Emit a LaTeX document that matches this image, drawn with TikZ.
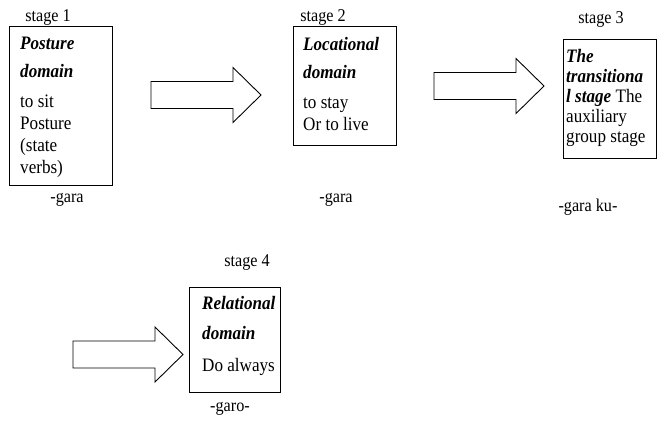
\documentclass[tikz,border=0pt]{standalone}
\usepackage{fontspec}
\setmainfont[FakeStretch=0.9]{Liberation Serif}
\usetikzlibrary{positioning}
\tikzset{>=latex}
\tikzset{
    stagebox/.style={draw, line width=.9pt, inner sep=0pt, outer sep=0pt, anchor=north west},
    boxtext/.style={inner sep=0pt, align=left, font=\fontsize{19}{22}\selectfont},
    stagelab/.style={inner sep=0pt, font=\fontsize{18}{20}\selectfont}
}
\newcommand{\hd}[1]{\textbf{\textit{#1}}}
\newcommand{\blockarrow}[2]{%
    \draw[line width=.9pt](#1, #2-13.5)--++(82, 0)--++(0, -14)--(#1+110, #2)
        --(#1+82, #2+27.5)--++(0, -14)--(#1, #2+13.5)--cycle;}

\begin{document}
\begin{tikzpicture}[x=1pt, y=-1pt]
    \useasboundingbox(0, 0)rectangle(657, 421);
    % boxes
    \node[stagebox, minimum width=103pt, minimum height=159pt](box1) at(9, 26){};
    \node[stagebox, minimum width=103pt, minimum height=119pt](box2) at(293, 26){};
    \node[stagebox, minimum width=93pt, minimum height=119pt](box3) at(563, 39){};
    \node[stagebox, minimum width=91pt, minimum height=105pt](box4) at(189, 287){};
    % box texts
    \node[boxtext, below right=11pt and 11pt of box1.north west](txt1)
        {\hd{Posture}\\[6pt]\hd{domain}\\[8pt]to sit\\Posture\\(state\\verbs)};
    \node[boxtext, below right=11pt and 10pt of box2.north west](txt2)
        {\hd{Locational}\\[6pt]\hd{domain}\\[8pt]to stay\\Or to live};
    \node[boxtext, font=\fontsize{19}{20}\selectfont, below right=10pt and 3pt of box3.north west](txt3)
        {\hd{The}\\\hd{transitiona}\\\hd{l stage} The\\auxiliary\\group stage};
    \node[boxtext, below right=9pt and 13pt of box4.north west](txt4)
        {\hd{Relational}\\[8pt]\hd{domain}\\[10pt]Do always};
    % stage labels
    \node[stagelab](st1) at(48, 17){stage 1};
    \node[stagelab](st2) at(323, 17){stage 2};
    \node[stagelab](st3) at(601, 19){stage 3};
    \node[stagelab](st4) at(247, 263){stage 4};
    % suffixes
    \node[stagelab](sf1) at(67, 200){-gara};
    \node[stagelab](sf2) at(336, 200){-gara};
    \node[stagelab](sf3) at(588, 207){-gara ku-};
    \node[stagelab](sf4) at(230, 409){-garo-};
    % arrows
    \blockarrow{151}{95}
    \blockarrow{434}{86}
    \blockarrow{73}{354.5}
\end{tikzpicture}
\end{document}
